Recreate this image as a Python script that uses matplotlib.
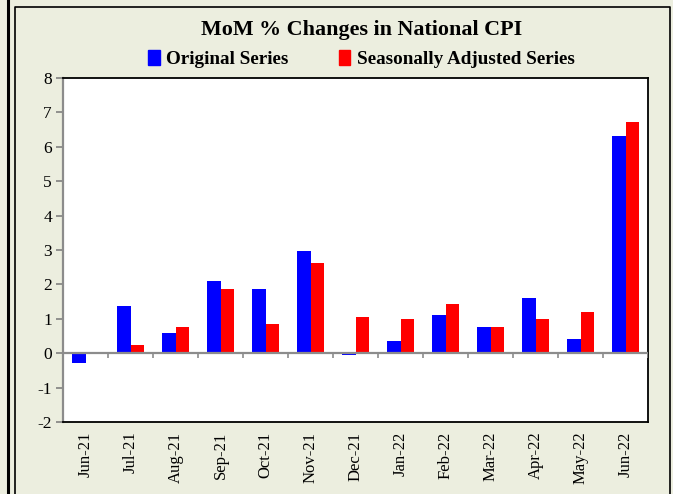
import numpy as np
import matplotlib
matplotlib.use("Agg")
import matplotlib.pyplot as plt
from matplotlib.patches import Rectangle
from matplotlib.lines import Line2D

# data
months = ["Jun-21", "Jul-21", "Aug-21", "Sep-21", "Oct-21", "Nov-21", "Dec-21",
          "Jan-22", "Feb-22", "Mar-22", "Apr-22", "May-22", "Jun-22"]
original = [-0.29, 1.36, 0.59, 2.09, 1.87, 2.98, -0.06, 0.36, 1.12, 0.77, 1.61, 0.42, 6.32]
seas_adj = [0.02, 0.25, 0.77, 1.87, 0.86, 2.62, 1.04, 0.99, 1.44, 0.77, 0.99, 1.21, 6.72]

bg = "#ECEEDF"
plt.rcParams["font.family"] = ["Liberation Serif", "DejaVu Serif"]
plt.rcParams["axes.unicode_minus"] = False

fig = plt.figure(figsize=(6.73, 4.94), dpi=100, facecolor=bg)
ax = fig.add_axes([63/673, 1-422/494, (648-63)/673, (422-78)/494])
ax.set_facecolor("white")

x = np.arange(len(months))
w = 0.29
ax.bar(x - w/2, original, w, color="#0000FF", edgecolor="none", label="Original Series")
ax.bar(x + w/2, seas_adj, w, color="#FF0000", edgecolor="none", label="Seasonally Adjusted Series")

ax.set_xlim(-0.5, len(months) - 0.5)
ax.set_ylim(-2, 8)
ax.set_yticks(range(-2, 9))
ax.set_xticks(x)
ax.set_xticklabels(months, rotation=90, fontsize=12)
ax.tick_params(axis="x", length=0, pad=7)
ax.tick_params(axis="y", length=5, width=1.2, color="#808080", labelsize=12.5, pad=3)

# zero line with category tick marks, Excel style
ax.axhline(0, color="#8C8C8C", lw=1.6, zorder=3)
ax.vlines(np.arange(len(months) + 1) - 0.5, -0.13, 0, color="#8C8C8C", lw=1.2, zorder=3)

for s in ["top", "right", "bottom"]:
    ax.spines[s].set_color("black")
    ax.spines[s].set_linewidth(1.3)
ax.spines["left"].set_color("#8C8C8C")
ax.spines["left"].set_linewidth(1.6)

fig.text(0.537, 1-30/494, "MoM % Changes in National CPI", ha="center", va="center",
         fontsize=15.8, fontweight="bold")

h = [Rectangle((0, 0), 1, 1, color="#0000FF"), Rectangle((0, 0), 1, 1, color="#FF0000")]
fig.legend(h, ["Original Series", "Seasonally Adjusted Series"], loc="center",
           bbox_to_anchor=(0.537, 1-59/494), ncol=2, frameon=False,
           prop={"weight": "bold", "size": 13.8}, handlelength=0.6, handleheight=0.8,
           handletextpad=0.35, columnspacing=2.6)

# outer frames
fig.add_artist(Line2D([8/673, 8/673], [0, 1], color="black", lw=2.2))
fig.add_artist(Line2D([15/673, 15/673, 670/673, 670/673], [0, 1-7/494, 1-7/494, 0],
                      color="black", lw=1.2))

fig.savefig("out.png", dpi=100, facecolor=bg)
